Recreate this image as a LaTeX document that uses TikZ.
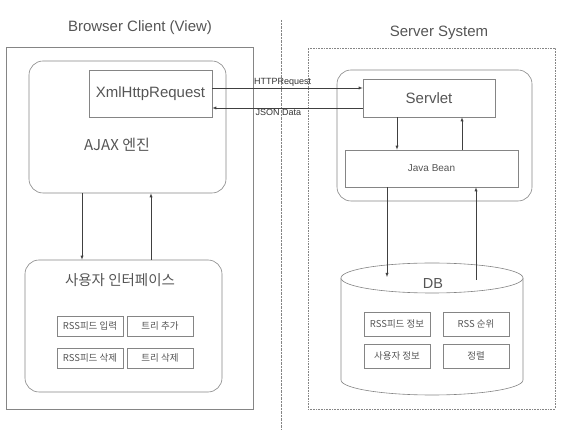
\documentclass[tikz,border=0pt]{standalone}
\usepackage{fontspec}
\setmainfont{Liberation Sans}
\newfontfamily\kr{Noto Sans CJK KR}
\definecolor{linegray}{HTML}{858585}
\definecolor{textgray}{HTML}{555555}
\tikzset{
	>=latex,
	box/.style={draw=linegray, line width=0.6pt, inner sep=0pt, text=textgray},
	rbox/.style={box, rounded corners=14pt},
	smallbox/.style={box, minimum width=66pt, minimum height=20pt, font=\kr\fontsize{9.5}{10}\selectfont},
	conn/.style={draw=black!75, ->},
	lbl/.style={font=\fontsize{9}{10}\selectfont, text=black!80, inner sep=1pt}
}
\begin{document}
\begin{tikzpicture}[x=1pt, y=-1pt]
	\useasboundingbox (0,0) rectangle (571,430);

	% titles and divider
	\node[text=textgray, font=\fontsize{15}{17}\selectfont] (tclient) at (140,28) {Browser Client (View)};
	\node[text=textgray, font=\fontsize{15}{17}\selectfont] (tserver) at (439,33) {Server System};
	\draw[linegray, densely dotted] (281,20) -- (281,430);

	% browser client
	\node[box, minimum width=247pt, minimum height=362pt] (client) at (129.5,228) {};
	\node[rbox, minimum width=197pt, minimum height=132pt] (ajax) at (127.5,127) {};
	\node[box, minimum width=123pt, minimum height=47pt, font=\fontsize{15}{17}\selectfont] (xhr) at (150.5,93.5) {XmlHttpRequest};
	\node[text=textgray, font=\kr\fontsize{15}{17}\selectfont] (tajax) at (117,145) {AJAX 엔진};

	\node[rbox, minimum width=197pt, minimum height=132pt] (ui) at (123.5,326) {};
	\node[text=textgray, font=\kr\fontsize{14.5}{16}\selectfont] (tui) at (120,280) {사용자 인터페이스};
	\node[smallbox] (rssin) at (90,326) {RSS피드 입력};
	\node[smallbox] (treeadd) at (160,326) {트리 추가};
	\node[smallbox] (rssdel) at (90,358) {RSS피드 삭제};
	\node[smallbox] (treedel) at (160,358) {트리 삭제};

	% server system
	\node[box, densely dotted, minimum width=247pt, minimum height=361pt] (server) at (431.5,228.5) {};
	\node[rbox, minimum width=195pt, minimum height=131pt] (web) at (434.5,135.5) {};
	\node[box, minimum width=132pt, minimum height=38pt, font=\fontsize{15}{17}\selectfont] (servlet) at (429,98) {Servlet};
	\node[box, minimum width=173pt, minimum height=37pt, font=\fontsize{10}{12}\selectfont] (bean) at (431.5,168.5) {Java Bean};

	% database
	\draw[linegray, line width=0.6pt] (341,278) -- (341,380) arc[start angle=180, end angle=0, x radius=91, y radius=15] -- (523,278);
	\draw[linegray, line width=0.6pt, fill=white] (432,278) ellipse [x radius=91, y radius=15];
	\node[text=textgray, font=\fontsize{14.5}{16}\selectfont] (db) at (433,284) {DB};
	\node[smallbox, minimum height=24pt] (rssinfo) at (397,324) {RSS피드 정보};
	\node[smallbox, minimum height=24pt] (rssrank) at (476,324) {RSS 순위};
	\node[smallbox, minimum height=24pt] (userinfo) at (397,356) {사용자 정보};
	\node[smallbox, minimum height=24pt] (sorting) at (476,356) {정렬};
	\coordinate (dbin) at (387,277);
	\coordinate (dbout) at (476,280);

	% connectors
	\draw[conn] (xhr.east |- 0,88) -- (servlet.west |- 0,88) node[lbl, pos=0.27, anchor=south west] (lhttp) {HTTPRequest};
	\draw[conn] (servlet.west |- 0,108) -- (xhr.east |- 0,108) node[lbl, pos=0.72, anchor=north west] (ljson) {JSON Data};
	\draw[conn] (ajax.south -| 82,0) -- (ui.north -| 82,0);
	\draw[conn] (ui.north -| 151,0) -- (ajax.south -| 151,0);
	\draw[conn] (servlet.south -| 397,0) -- (bean.north -| 397,0);
	\draw[conn] (bean.north -| 462,0) -- (servlet.south -| 462,0);
	\draw[conn] (bean.south -| dbin) -- (dbin);
	\draw[conn] (dbout) -- (bean.south -| dbout);
\end{tikzpicture}
\end{document}
